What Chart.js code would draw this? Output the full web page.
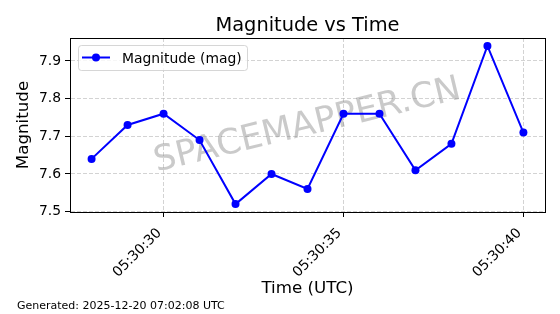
<!DOCTYPE html>
<html>
<head>
<meta charset="utf-8">
<script src="https://cdn.jsdelivr.net/npm/chart.js@4.4.1/dist/chart.umd.min.js"></script>
<style>
  html, body { margin: 0; padding: 0; background: #fff; }
  #wrap { width: 560px; height: 314px; }
</style>
</head>
<body>
<div id="wrap"><canvas id="chart" width="560" height="314"></canvas></div>
<script>
// ── Data ────────────────────────────────────────────────────────────────
const times = ['05:30:28', '05:30:29', '05:30:30', '05:30:31', '05:30:32', '05:30:33', '05:30:34',
               '05:30:35', '05:30:36', '05:30:37', '05:30:38', '05:30:39', '05:30:40'];
const magnitudes = [7.64, 7.73, 7.76, 7.69, 7.52, 7.60, 7.56, 7.76, 7.76, 7.61, 7.68, 7.94, 7.71];
const xTickLabels = ['05:30:30', '05:30:35', '05:30:40'];
const yTickValues = [7.5, 7.6, 7.7, 7.8, 7.9];

const seriesLabel = 'Magnitude (mag)';
const chartTitle = 'Magnitude vs Time';
const footerText = 'Generated: 2025-12-20 07:02:08 UTC';
const watermarkText = 'SPACEMAPPER.CN';

const FONT = "'DejaVu Sans', sans-serif";
const BLUE = '#0000ff';

// hh:mm:ss -> seconds
const toSec = s => { const [h, m, x] = s.split(':').map(Number); return h * 3600 + m * 60 + x; };

// matplotlib-like 5% margins
const xs = times.map(toSec);
const xPad = (xs[xs.length - 1] - xs[0]) * 0.05;
const yLo = Math.min(...magnitudes), yHi = Math.max(...magnitudes);
const yPad = (yHi - yLo) * 0.05;

// ── Extra drawing: watermark, frame, legend, title, footer ─────────────
const decor = {
  id: 'decor',
  beforeDatasetsDraw(chart) {
    const { ctx, chartArea: a } = chart;
    ctx.save();
    ctx.translate((a.left + a.right) / 2, (a.top + a.bottom) / 2 + 1);
    ctx.rotate(-13.5 * Math.PI / 180);
    ctx.font = `35px ${FONT}`;
    ctx.fillStyle = 'rgba(128,128,128,0.42)';
    ctx.textAlign = 'center';
    ctx.textBaseline = 'middle';
    ctx.fillText(watermarkText, 0, 0);
    ctx.restore();
  },
  afterDatasetsDraw(chart) {
    const { ctx, chartArea: a } = chart;
    ctx.save();
    // full frame
    ctx.strokeStyle = '#000';
    ctx.lineWidth = 1;
    ctx.strokeRect(Math.round(a.left) + 0.5, Math.round(a.top) + 0.5,
                   Math.round(a.right - a.left), Math.round(a.bottom - a.top));

    // legend box (upper left)
    const ds = chart.data.datasets[0];
    const bx = a.left + 8, by = a.top + 7, bw = 169, bh = 25;
    ctx.beginPath();
    ctx.roundRect(bx + 0.5, by + 0.5, bw, bh, 3);
    ctx.fillStyle = 'rgba(255,255,255,0.8)';
    ctx.fill();
    ctx.strokeStyle = 'rgba(204,204,204,0.8)';
    ctx.stroke();
    const ly = by + 12.5;
    ctx.beginPath();
    ctx.moveTo(bx + 4, ly);
    ctx.lineTo(bx + 32, ly);
    ctx.strokeStyle = ds.borderColor;
    ctx.lineWidth = ds.borderWidth;
    ctx.stroke();
    ctx.beginPath();
    ctx.arc(bx + 18, ly, ds.pointRadius, 0, Math.PI * 2);
    ctx.fillStyle = ds.pointBackgroundColor;
    ctx.fill();
    ctx.font = `13.9px ${FONT}`;
    ctx.fillStyle = '#000';
    ctx.textBaseline = 'alphabetic';
    ctx.fillText(ds.label, bx + 44, ly + 5);
    ctx.restore();
  },
  afterDraw(chart) {
    const { ctx, chartArea: a } = chart;
    ctx.save();
    ctx.fillStyle = '#000';
    ctx.textBaseline = 'alphabetic';
    ctx.font = `19.4px ${FONT}`;
    ctx.textAlign = 'center';
    ctx.fillText(chartTitle, (a.left + a.right) / 2, 31);
    ctx.font = `11px ${FONT}`;
    ctx.textAlign = 'left';
    ctx.fillText(footerText, 17, 309);
    ctx.restore();
  }
};

// ── Chart ───────────────────────────────────────────────────────────────
new Chart(document.getElementById('chart'), {
  type: 'line',
  data: {
    datasets: [{
      label: seriesLabel,
      data: times.map((t, i) => ({ x: toSec(t), y: magnitudes[i] })),
      borderColor: BLUE,
      backgroundColor: BLUE,
      borderWidth: 2,
      pointRadius: 4,
      pointBackgroundColor: BLUE,
      pointBorderWidth: 0,
      tension: 0,
      fill: false
    }]
  },
  options: {
    responsive: false,
    animation: false,
    events: [],
    layout: { padding: { left: 0, right: 15, top: 38, bottom: 0 } },
    plugins: { legend: { display: false }, tooltip: { enabled: false }, title: { display: false } },
    scales: {
      x: {
        type: 'linear',
        min: xs[0] - xPad,
        max: xs[xs.length - 1] + xPad,
        afterBuildTicks: s => { s.ticks = xTickLabels.map(t => ({ value: toSec(t) })); },
        afterFit: s => { s.height = 102; },
        ticks: {
          autoSkip: false, minRotation: 45, maxRotation: 45, padding: 8, labelOffset: -4,
          color: '#000', font: { family: FONT, size: 13.9 },
          callback: (v, i) => xTickLabels[i]
        },
        grid: { color: 'rgba(176,176,176,0.7)', lineWidth: 0.8, tickColor: '#000', tickWidth: 1,
                tickLength: 5, tickBorderDash: [] },
        border: { color: '#000', width: 1, dash: [4, 2] },
        title: { display: true, text: 'Time (UTC)', color: '#000',
                 font: { family: FONT, size: 16.7 }, padding: { top: 0, bottom: 15 } }
      },
      y: {
        min: yLo - yPad,
        max: yHi + yPad,
        afterBuildTicks: s => { s.ticks = yTickValues.map(v => ({ value: v })); },
        afterFit: s => { s.width = 70; },
        ticks: { padding: 4, color: '#000', font: { family: FONT, size: 13.9 },
                 callback: v => v.toFixed(1) },
        grid: { color: 'rgba(176,176,176,0.7)', lineWidth: 0.8, tickColor: '#000', tickWidth: 1,
                tickLength: 5, tickBorderDash: [] },
        border: { color: '#000', width: 1, dash: [4, 2] },
        title: { display: true, text: 'Magnitude', color: '#000',
                 font: { family: FONT, size: 16.7 }, padding: { top: 14, bottom: 0 } }
      }
    }
  },
  plugins: [decor]
});
</script>
</body>
</html>
